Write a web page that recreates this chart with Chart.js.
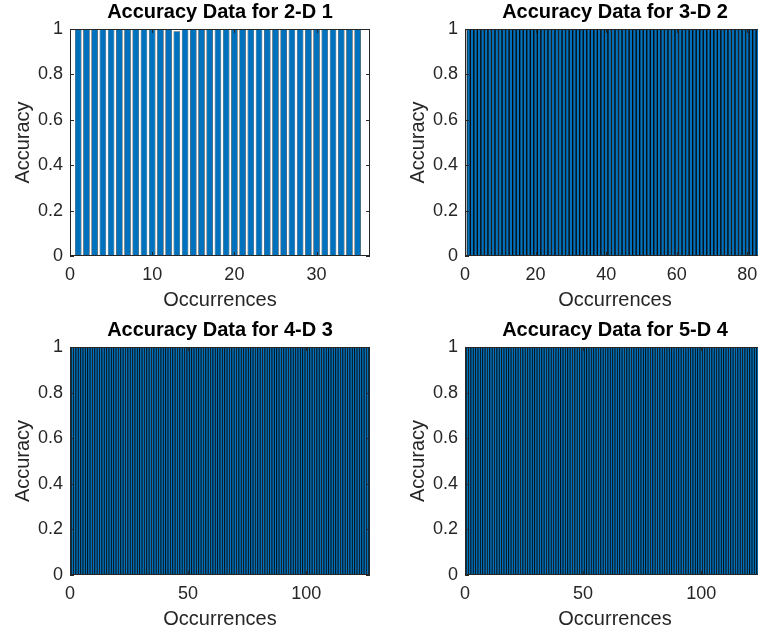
<!DOCTYPE html>
<html>
<head>
<meta charset="utf-8">
<title>Accuracy Data</title>
<script src="https://cdn.jsdelivr.net/npm/chart.js@4.4.1/dist/chart.umd.min.js"></script>
<style>
html, body { margin: 0; padding: 0; background: #fff; overflow: hidden; }
#wrap { position: relative; width: 758px; height: 637px; overflow: hidden; }
.panel { position: absolute; width: 379px; height: 318px; }
</style>
</head>
<body>
<div id="wrap">
  <div class="panel" style="left:0;top:0"><canvas id="c1" width="379" height="318"></canvas></div>
  <div class="panel" style="left:395px;top:0"><canvas id="c2" width="379" height="318"></canvas></div>
  <div class="panel" style="left:0;top:318px"><canvas id="c3" width="379" height="319"></canvas></div>
  <div class="panel" style="left:395px;top:318px"><canvas id="c4" width="379" height="319"></canvas></div>
</div>
<script>
// Titles
const titles = ['Accuracy Data for 2-D 1', 'Accuracy Data for 3-D 2', 'Accuracy Data for 4-D 3', 'Accuracy Data for 5-D 4'];

// Accuracy per occurrence (bar i sits at occurrence i+1)
const acc2D = [1,1,1,1,1,1,1,1,1,1, 1,1,0.99,1,1,1,1,1,1,1, 1,1,1,1,1,1,1,1,1,1, 1,1,1,1,1];
const acc3D = [1,1,1,1,1,1,1,1,1,1, 1,1,1,1,1,1,1,1,1,1, 1,1,1,1,1,1,1,1,1,1, 1,1,1,1,1,1,1,1,1,1,
               1,1,1,1,1,1,1,1,1,1, 1,1,1,1,1,1,1,1,1,1, 1,1,1,1,1,1,1,1,1,1, 1,1,1,1,1,1,1,1,1,1,
               1,1,1,1];
const acc4D = [1,1,1,1,1,1,1,1,1,1, 1,1,1,1,1,1,1,1,1,1, 1,1,1,1,1,1,1,1,1,1, 1,1,1,1,1,1,1,1,1,1,
               1,1,1,1,1,1,1,1,1,1, 1,1,1,1,1,1,1,1,1,1, 1,1,1,1,1,1,1,1,1,1, 1,1,1,1,1,1,1,1,1,1,
               1,1,1,1,1,1,1,1,1,1, 1,1,1,1,1,1,1,1,1,1, 1,1,1,1,1,1,1,1,1,1, 1,1,1,1,1,1,1,1,1,1,
               1,1,1,1,1,1];
const acc5D = [1,1,1,1,1,1,1,1,1,1, 1,1,1,1,1,1,1,1,1,1, 1,1,1,1,1,1,1,1,1,1, 1,1,1,1,1,1,1,1,1,1,
               1,1,1,1,1,1,1,1,1,1, 1,1,1,1,1,1,1,1,1,1, 1,1,1,1,1,1,1,1,1,1, 1,1,1,1,1,1,1,1,1,1,
               1,1,1,1,1,1,1,1,1,1, 1,1,1,1,1,1,1,1,1,1, 1,1,1,1,1,1,1,1,1,1, 1,1,1,1,1,1,1,1,1,1,
               1,1,1,1,1,1];

// Axis limits and ticks
const xMaxes = [36.5, 85, 127, 127];
const xTicks = [[0, 10, 20, 30], [0, 20, 40, 60, 80], [0, 50, 100], [0, 50, 100]];
const yTicks = [0, 0.2, 0.4, 0.6, 0.8, 1];
// bar width share; matlab edges spill past the face so the dense plots look gap-free
const barShares = [0.8, 1, 1, 1];
const edgeWidths = [0.6, 1, 0.8, 0.8];

const font = 'Liberation Sans, Arial, Helvetica, sans-serif';
const barBlue = '#0072BD';
const axisGray = '#262626';

// box around axes + inward tick marks, like matlab
const axesBox = {
    id: 'axesBox',
    afterDatasetsDraw(chart) {
        const {ctx, chartArea: a, scales} = chart;
        ctx.save();
        ctx.strokeStyle = axisGray;
        ctx.lineWidth = 1;
        ctx.strokeRect(a.left + 0.5, a.top + 0.5, a.right - a.left - 1, a.bottom - a.top - 1);
        ctx.beginPath();
        scales.x.ticks.forEach(t => {
            const px = Math.round(scales.x.getPixelForValue(t.value)) + 0.5;
            ctx.moveTo(px, a.bottom); ctx.lineTo(px, a.bottom - 4);
            ctx.moveTo(px, a.top); ctx.lineTo(px, a.top + 4);
        });
        scales.y.ticks.forEach(t => {
            const py = Math.round(scales.y.getPixelForValue(t.value)) + 0.5;
            ctx.moveTo(a.left, py); ctx.lineTo(a.left + 4, py);
            ctx.moveTo(a.right, py); ctx.lineTo(a.right - 4, py);
        });
        ctx.stroke();
        ctx.restore();
    }
};

function makeChart(id, i) {
    const points = accs[i].map((v, k) => ({x: k + 1, y: v}));
    return new Chart(document.getElementById(id), {
        type: 'bar',
        data: {
            datasets: [{
                data: points,
                backgroundColor: barBlue,
                borderColor: '#0a0a0a',
                borderWidth: edgeWidths[i],
                categoryPercentage: 1,
                barPercentage: barShares[i]
            }]
        },
        options: {
            responsive: false,
            animation: false,
            layout: {padding: {right: 9, bottom: 0, top: 0, left: 0}},
            plugins: {
                legend: {display: false},
                tooltip: {enabled: false},
                title: {
                    display: true, text: titles[i], fullSize: false, color: '#000',
                    font: {family: font, size: 20, weight: 'bold'},
                    padding: {top: 0, bottom: 5}
                }
            },
            scales: {
                x: {
                    type: 'linear', min: 0, max: xMaxes[i], offset: false,
                    grid: {display: false, drawTicks: false, offset: false},
                    border: {display: false},
                    afterBuildTicks: s => { s.ticks = xTicks[i].map(v => ({value: v})); },
                    ticks: {color: axisGray, font: {family: font, size: 18}, padding: 8, maxRotation: 0, autoSkip: false},
                    title: {display: true, text: 'Occurrences', color: axisGray, font: {family: font, size: 20}, padding: {top: 0, bottom: 6}},
                    afterFit: s => { s.height = 62; }
                },
                y: {
                    min: 0, max: 1,
                    grid: {display: false, drawTicks: false},
                    border: {display: false},
                    afterBuildTicks: s => { s.ticks = yTicks.map(v => ({value: v})); },
                    ticks: {color: axisGray, font: {family: font, size: 18}, padding: 7,
                            callback: v => String(+Number(v).toFixed(1))},
                    title: {display: true, text: 'Accuracy', color: axisGray, font: {family: font, size: 20}, padding: {top: 11, bottom: 0}},
                    afterFit: s => { s.width = 70; }
                }
            }
        },
        plugins: [axesBox]
    });
}

const accs = [acc2D, acc3D, acc4D, acc5D];
['c1', 'c2', 'c3', 'c4'].forEach((id, i) => makeChart(id, i));
</script>
</body>
</html>
